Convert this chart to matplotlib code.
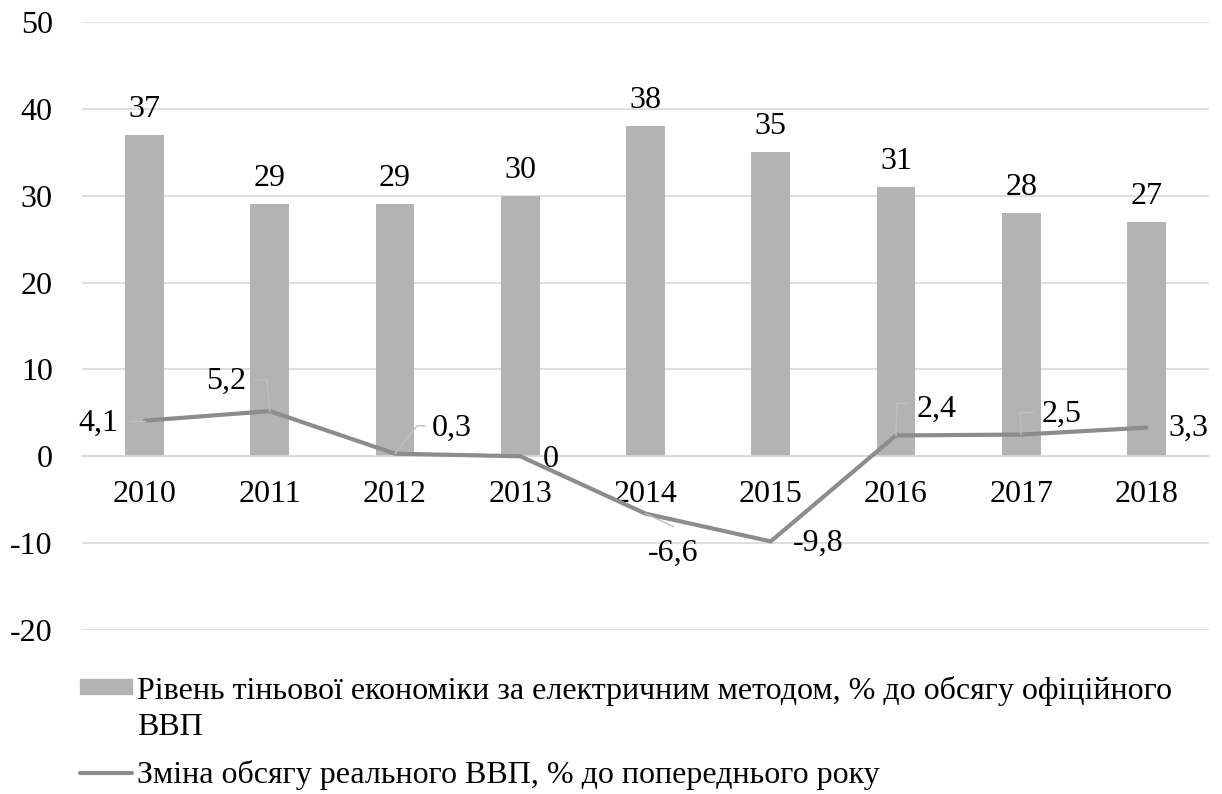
import numpy as np
import matplotlib
matplotlib.use("Agg")
import matplotlib.pyplot as plt
from matplotlib.patches import Rectangle
from matplotlib.lines import Line2D
from matplotlib.transforms import Affine2D, ScaledTranslation

plt.rcParams["font.family"] = ["Liberation Serif", "DejaVu Serif"]
plt.rcParams["axes.unicode_minus"] = False

years = ["2010", "2011", "2012", "2013", "2014", "2015", "2016", "2017", "2018"]
shadow = [37, 29, 29, 30, 38, 35, 31, 28, 27]
gdp = [4.1, 5.2, 0.3, 0, -6.6, -9.8, 2.4, 2.5, 3.3]
gdp_labels = ["4,1", "5,2", "0,3", "0", "-6,6", "-9,8", "2,4", "2,5", "3,3"]

bar_name = "Рівень тіньової економіки за електричним методом, % до обсягу офіційного\nВВП"
line_name = "Зміна обсягу реального ВВП, % до попереднього року"

# label offsets (pixels, y up) and leader paths for the line labels
lbl_off = [(-46, -3), (-44, 30), (57, 25), (30, -3), (28, -40),
           (47, -2), (41, 26), (40, 20), (42, -1)]
leaders = {
    0: [(0, 0), (-15, 0)],
    1: [(0, 0), (-3, 31), (-15, 31)],
    2: [(0, 0), (22, 28), (30, 28)],
    4: [(0, 0), (28, -13)],
    6: [(0, 0), (1, 32), (12, 32)],
    7: [(0, 0), (-1, 22), (12, 22)],
}

FS = 23
BAR_C = "#B3B3B3"
LINE_C = "#8C8C8C"
GRID_C = "#D9D9D9"

W, H = 1222, 794
fig = plt.figure(figsize=(W / 100, H / 100), dpi=100)
ax = fig.add_axes([82 / W, 1 - 630 / H, 1127 / W, 608 / H])

x = np.arange(len(years))
ax.bar(x, shadow, width=0.31, color=BAR_C, zorder=2)
ax.plot(x, gdp, color=LINE_C, lw=3, solid_capstyle="round",
        solid_joinstyle="round", zorder=3)

for xi, v in zip(x, shadow):
    ax.annotate(str(v), (xi, v), xytext=(0, 18), textcoords="offset pixels",
                ha="center", va="baseline", fontsize=FS)

for i, (xi, v, t) in enumerate(zip(x, gdp, gdp_labels)):
    dx, dy = lbl_off[i]
    ax.annotate(t, (xi, v), xytext=(dx, dy), textcoords="offset pixels",
                ha="center", va="center", fontsize=FS, zorder=5)
    if i in leaders:
        px, py = zip(*leaders[i])
        tr = Affine2D() + ScaledTranslation(xi, v, ax.transData)
        ax.add_line(Line2D(px, py, transform=tr, color="#BFBFBF",
                           lw=1, zorder=4))

ax.set_xlim(-0.5, len(years) - 0.5)
ax.set_ylim(-20, 50)
ax.set_yticks(np.arange(-20, 51, 10))
ax.yaxis.grid(True, color=GRID_C, lw=1.2, zorder=0)
ax.set_axisbelow(True)
ax.set_xticks(x)
ax.set_xticklabels(years)
for s in ["top", "right", "left"]:
    ax.spines[s].set_visible(False)
ax.spines["bottom"].set_position(("data", 0))
ax.spines["bottom"].set_color(GRID_C)
ax.spines["bottom"].set_linewidth(1.2)
ax.tick_params(axis="both", length=0, labelsize=FS)
ax.tick_params(axis="x", pad=17)
ax.tick_params(axis="y", pad=21)

# legend drawn by hand to match the Excel layout
fig.add_artist(Rectangle((80 / W, 1 - 694 / H), 52 / W, 15 / H,
                         transform=fig.transFigure, color=BAR_C))
fig.text(137 / W, 1 - 735 / H, bar_name, fontsize=FS, va="baseline",
         ha="left", linespacing=1.3)
fig.add_artist(Line2D([80 / W, 132 / W], [1 - 773 / H, 1 - 773 / H],
                      transform=fig.transFigure, color=LINE_C, lw=3,
                      solid_capstyle="round"))
fig.text(137 / W, 1 - 783 / H, line_name, fontsize=FS, va="baseline",
         ha="left")

fig.savefig("out.png", dpi=100)
